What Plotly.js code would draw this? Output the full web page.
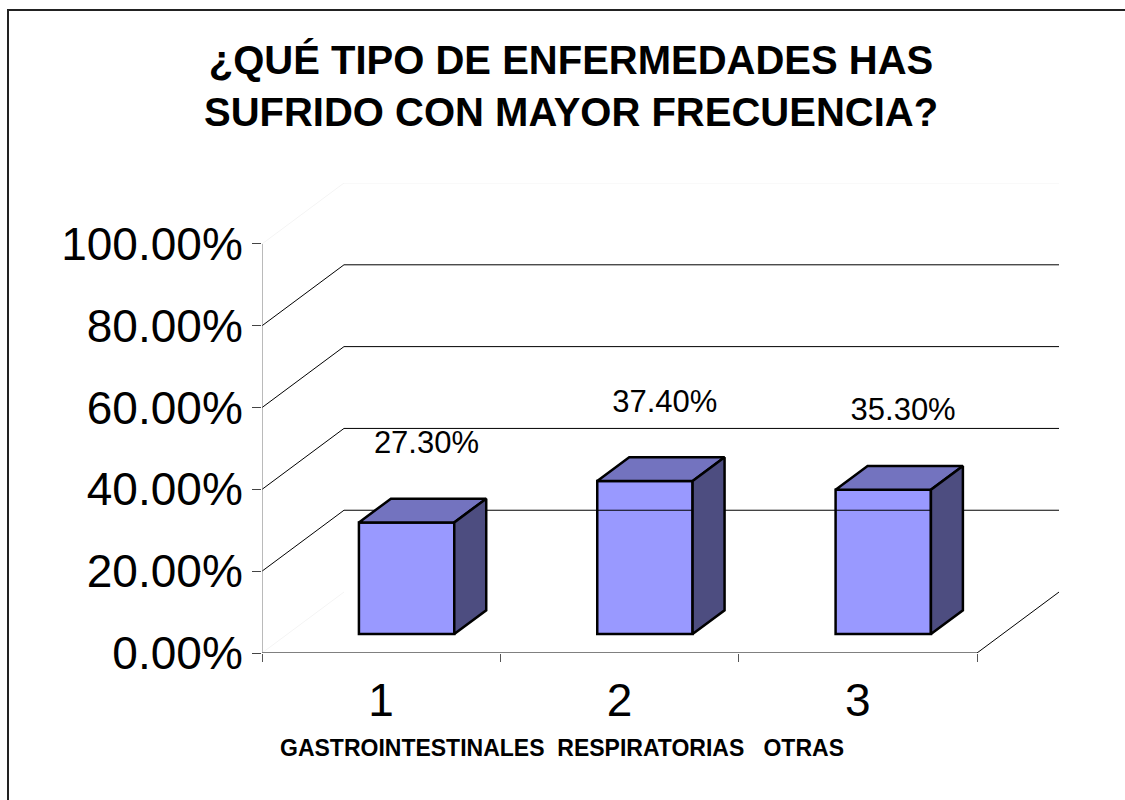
<!DOCTYPE html>
<html>
<head>
<meta charset="utf-8">
<script src="https://cdn.plot.ly/plotly-3.0.1.min.js"></script>
<style>
html,body{margin:0;padding:0;background:#fff;}
#chart{width:1125px;height:800px;}
</style>
</head>
<body>
<div id="chart"></div>
<script>
// ---- data ----
const categories = [1, 2, 3];
const categoryLabels = ['1', '2', '3'];
const values = [0.273, 0.374, 0.353];
const yTickValues = [0, 0.2, 0.4, 0.6, 0.8, 1.0];
const chartTitle = '¿QUÉ TIPO DE ENFERMEDADES HAS<br>SUFRIDO CON MAYOR FRECUENCIA?';
const xAxisTitle = 'GASTROINTESTINALES&nbsp;&nbsp;RESPIRATORIAS&nbsp;&nbsp;&nbsp;OTRAS';

// ---- pseudo-3D geometry (in data units) ----
const DX = 0.344;   // depth offset along x (category units)
const DY = 0.149;   // depth offset along y (value units)
const F0 = 0.31, F1 = 0.70; // bar front/back depth fraction
const HW = 0.2;     // bar half width
const X0 = 0.5, X1 = categories.length + 0.5;

const FONT = 'Liberation Sans, Arial, sans-serif';
const traces = [];

// back wall gridlines
const gridVals = yTickValues.filter(v => v > 0 && v < 1);
gridVals.forEach(v => {
  traces.push({type:'scatter', mode:'lines', x:[X0, X0 + DX, X1 + DX], y:[v, v + DY, v + DY],
    line:{color:'#000', width:1}, hoverinfo:'skip', showlegend:false});
});
// faint wall edges
traces.push({type:'scatter', mode:'lines', x:[X0, X0 + DX, X1 + DX], y:[1, 1 + DY, 1 + DY],
  line:{color:'#f4f4f4', width:1}, hoverinfo:'skip', showlegend:false});
traces.push({type:'scatter', mode:'lines', x:[X0, X0 + DX], y:[0, DY],
  line:{color:'#f4f4f4', width:1}, hoverinfo:'skip', showlegend:false});
// floor edges
traces.push({type:'scatter', mode:'lines', x:[X0, X1, X1 + DX], y:[0, 0, DY],
  line:{color:'#000', width:1}, hoverinfo:'skip', showlegend:false});
// y axis line
traces.push({type:'scatter', mode:'lines', x:[X0, X0], y:[0, 1],
  line:{color:'#777', width:1}, hoverinfo:'skip', showlegend:false});

// bar top and side faces
categories.forEach((c, i) => {
  const v = values[i];
  const l = c - HW, r = c + HW;
  traces.push({type:'scatter', mode:'lines', fill:'toself', fillcolor:'#7373bf',
    x:[l + F0*DX, r + F0*DX, r + F1*DX, l + F1*DX, l + F0*DX],
    y:[v + F0*DY, v + F0*DY, v + F1*DY, v + F1*DY, v + F0*DY],
    line:{color:'#000', width:2.5}, hoverinfo:'skip', showlegend:false});
  traces.push({type:'scatter', mode:'lines', fill:'toself', fillcolor:'#4d4d80',
    x:[r + F0*DX, r + F1*DX, r + F1*DX, r + F0*DX, r + F0*DX],
    y:[F0*DY, F1*DY, v + F1*DY, v + F0*DY, F0*DY],
    line:{color:'#000', width:2.5}, hoverinfo:'skip', showlegend:false});
});

// data labels
traces.push({type:'scatter', mode:'text',
  x: categories.map(c => c + 0.19), y: values.map(v => v + 0.235),
  text: values.map(v => (v*100).toFixed(2) + '%'),
  textfont:{family:FONT, size:31, color:'#000'}, hoverinfo:'skip', showlegend:false});

// bar front faces
traces.push({type:'bar', x: categories.map(c => c + F0*DX), y: values,
  base: F0*DY, width: 2*HW,
  marker:{color:'#9999ff', line:{color:'#000', width:2.5}},
  hoverinfo:'skip', showlegend:false});

// ---- layout ----
const ML = 262, MT = 183, PW = 797, PH = 470;
const W = 1125, H = 800;
const px2x = p => (p - ML) / PW;
const py2y = p => (MT + PH - p) / PH;

const layout = {
  width: W, height: H,
  margin: {l: ML, r: W - ML - PW, t: MT, b: H - MT - PH, pad: 0},
  paper_bgcolor: '#fff', plot_bgcolor: 'rgba(0,0,0,0)',
  font: {family: FONT, color: '#000'},
  title: {text: chartTitle, xref: 'container', yref: 'container', x: 0.5076, xanchor: 'center',
    y: 1 - 74/H, yanchor: 'middle', font: {family: FONT, size: 40, weight: 'bold', color: '#000'}},
  xaxis: {range: [X0, X1 + DX], showgrid: false, zeroline: false, showline: false,
    tickmode: 'array', tickvals: categories, ticktext: categoryLabels, ticks: '',
    ticklabelstandoff: 16,
    tickfont: {family: FONT, size: 46, color: '#000'},
    minor: {tickmode: 'array', tickvals: [0.5, 1.5, 2.5, 3.5], ticks: 'outside', ticklen: 8, tickcolor: '#555', tickwidth: 1, showgrid: false},
    fixedrange: true},
  yaxis: {range: [0, 1 + DY], showgrid: false, zeroline: false, showline: false,
    tickmode: 'array', tickvals: yTickValues, tickformat: '.2%',
    ticks: 'outside', ticklen: 9, tickcolor: '#444', tickwidth: 1,
    tickfont: {family: FONT, size: 46, color: '#000'}, fixedrange: true},
  annotations: [
    {text: xAxisTitle, xref: 'paper', yref: 'paper', x: px2x(562), y: py2y(748),
      xanchor: 'center', yanchor: 'middle', showarrow: false,
      font: {family: FONT, size: 23, weight: 'bold', color: '#000'}}
  ],
  shapes: [
    {type: 'rect', xref: 'paper', yref: 'paper', x0: px2x(8), x1: px2x(1140), y0: py2y(815), y1: py2y(10),
      line: {color: '#222', width: 2}, fillcolor: 'rgba(0,0,0,0)', layer: 'below'}
  ],
  showlegend: false,
  bargap: 0
};

Plotly.newPlot('chart', traces, layout, {staticPlot: true, displayModeBar: false});
</script>
</body>
</html>
